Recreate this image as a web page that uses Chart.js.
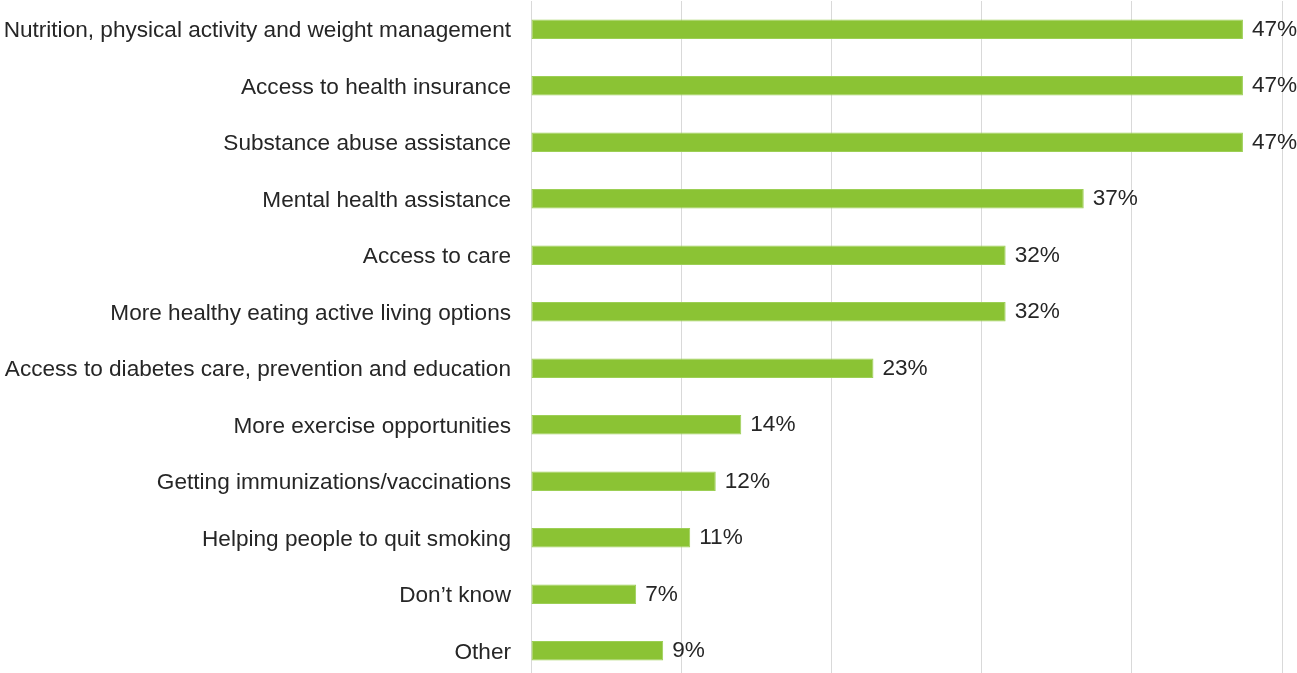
<!DOCTYPE html>
<html>
<head>
<meta charset="utf-8">
<script src="https://cdn.jsdelivr.net/npm/chart.js@4/dist/chart.umd.min.js"></script>
<style>
    html, body { margin: 0; padding: 0; background: #ffffff; overflow: hidden; }
    #wrap { width: 1297px; height: 679px; position: relative; }
</style>
</head>
<body>
<div id="wrap"><canvas id="chart"></canvas></div>
<script>

// Categories, top to bottom.
var categories = [
    "Nutrition, physical activity and weight management",
    "Access to health insurance",
    "Substance abuse assistance",
    "Mental health assistance",
    "Access to care",
    "More healthy eating active living options",
    "Access to diabetes care, prevention and education",
    "More exercise opportunities",
    "Getting immunizations/vaccinations",
    "Helping people to quit smoking",
    "Don\u2019t know",
    "Other"
];

// Bar lengths (percent).
var values = [47.4, 47.4, 47.4, 36.8, 31.6, 31.6, 22.8, 14.0, 12.3, 10.6, 7.0, 8.8];

// Labels printed at the end of each bar.
var value_labels = ["47%", "47%", "47%", "37%", "32%", "32%", "23%", "14%", "12%", "11%", "7%", "9%"];

var x_ticks = [0, 10, 20, 30, 40, 50];

var FONT = "'Liberation Sans', Arial, sans-serif";
var FONT_SIZE = 22.6;
var TEXT_COLOR = "#262626";


/**
* Draw the value label just past the end of each bar.
*/
var barLabels = {
    id: "barLabels",
    afterDatasetsDraw: function(chart) {
        var ctx = chart.ctx;
        var meta = chart.getDatasetMeta(0);
        ctx.save();
        ctx.font = FONT_SIZE + "px " + FONT;
        ctx.fillStyle = TEXT_COLOR;
        ctx.textAlign = "left";
        ctx.textBaseline = "middle";
        meta.data.forEach(function(bar, i) {
            ctx.fillText(value_labels[i], bar.x + 9, bar.y + 0.5);
        });
        ctx.restore();
    }
};


var data = {
    labels: categories,
    datasets: [{
        data: values,
        backgroundColor: "#8bc334",
        borderColor: "#9ccf55",
        borderWidth: 1,
        borderSkipped: false,
        categoryPercentage: 1.0,
        barPercentage: 0.344
    }]
};

var options = {
    indexAxis: "y",
    responsive: true,
    maintainAspectRatio: false,
    animation: false,
    layout: {
        padding: { top: 1, right: 15, bottom: 0, left: 0 }
    },
    plugins: {
        legend: { display: false },
        tooltip: { enabled: false }
    },
    scales: {
        x: {
            min: x_ticks[0],
            max: x_ticks[x_ticks.length - 1],
            afterBuildTicks: function(scale) {
                scale.ticks = x_ticks.map(function(v) { return { value: v }; });
            },
            ticks: { display: false },
            grid: { color: "#d9d9d9", lineWidth: 1, drawTicks: false },
            border: { display: false }
        },
        y: {
            // Fixed label column, and no extra room above/below for the labels.
            afterFit: function(scale) {
                scale.width = 531;
                scale.paddingTop = 0;
                scale.paddingBottom = 0;
            },
            grid: { display: false, drawTicks: false },
            border: { display: false },
            ticks: {
                padding: 20,
                labelOffset: 2,
                color: TEXT_COLOR,
                font: { family: FONT, size: FONT_SIZE },
                autoSkip: false
            }
        }
    }
};

var canvas = document.getElementById("chart").getContext("2d");
window.chart = new Chart(canvas, {
    type: "bar",
    data: data,
    options: options,
    plugins: [barLabels]
});

</script>
</body>
</html>
